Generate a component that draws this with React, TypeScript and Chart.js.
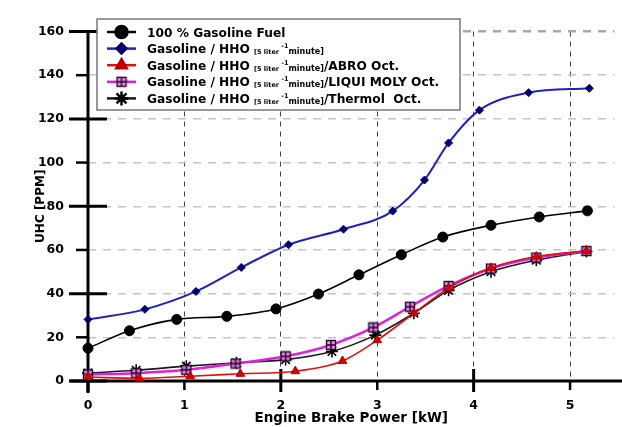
import React, { useEffect, useRef } from 'react';
import { Chart, registerables } from 'chart.js';
import { drawPoint } from 'chart.js/helpers';

Chart.register(...registerables);

// ---- data ----
const gasolineX = [0, 0.43, 0.92, 1.44, 1.95, 2.39, 2.81, 3.25, 3.68, 4.18, 4.68, 5.18];
const gasolineY = [15, 23, 28.2, 29.6, 33, 39.8, 48.6, 57.8, 65.9, 71.3, 75.1, 77.9];

const hhoX = [0, 0.59, 1.12, 1.59, 2.08, 2.65, 3.16, 3.49, 3.74, 4.06, 4.57, 5.2];
const hhoY = [28.2, 32.8, 41, 52, 62.4, 69.5, 77.8, 92, 109, 124, 132, 134];

const abroX = [0, 0.53, 1.06, 1.58, 2.15, 2.64, 3.0, 3.38, 3.74, 4.18, 4.65, 5.17];
const abroY = [1.8, 1.2, 2.2, 3.3, 4.5, 9.2, 18.7, 31, 42.5, 51.8, 57, 59.5];

const liquiX = [0, 0.5, 1.02, 1.53, 2.05, 2.52, 2.96, 3.34, 3.74, 4.18, 4.65, 5.17];
const liquiY = [3, 3.6, 5.1, 8, 11.3, 16.5, 24.5, 34, 43.5, 51.5, 56.5, 59.5];

const thermolX = [0, 0.5, 1.02, 1.54, 2.05, 2.53, 2.98, 3.38, 3.74, 4.18, 4.65, 5.17];
const thermolY = [3.6, 4.9, 6.8, 8.3, 9.8, 13.5, 21, 31, 41.5, 50, 55.3, 59.3];

const xTickValues = [0, 1, 2, 3, 4, 5];
const xMajorTicks = [0, 2, 4];
const xMinorTicks = [1, 3, 5];
const yMajorTicks = [0, 40, 80, 120, 160];
const yMinorTicks = [20, 60, 100, 140];

const legendMain = [
  '100 % Gasoline Fuel',
  'Gasoline / HHO ',
  'Gasoline / HHO ',
  'Gasoline / HHO ',
  'Gasoline / HHO ',
];
const legendHasUnit = [false, true, true, true, true];
const legendSuffix = ['', '', '/ABRO Oct.', '/LIQUI MOLY Oct.', '/Thermol  Oct.'];
const unitPartA = '[5 liter ';
const unitSup = '-1';
const unitPartB = 'minute]';

const FONT = '"DejaVu Sans", Verdana, sans-serif';

function toPoints(xs: number[], ys: number[]) {
  return xs.map((x, i) => ({ x, y: ys[i] }));
}

function makeBoxCross(): HTMLCanvasElement {
  const c = document.createElement('canvas');
  c.width = 12;
  c.height = 12;
  const g = c.getContext('2d')!;
  g.fillStyle = 'rgba(225,140,225,0.9)';
  g.fillRect(1, 1, 10, 10);
  g.strokeStyle = '#2a002a';
  g.lineWidth = 1.4;
  g.strokeRect(1.5, 1.5, 9, 9);
  g.beginPath();
  g.moveTo(6, 1.5);
  g.lineTo(6, 10.5);
  g.moveTo(1.5, 6);
  g.lineTo(10.5, 6);
  g.stroke();
  return c;
}

const axesPlugin = {
  id: 'customAxes',
  beforeDatasetsDraw(chart: any) {
    const { ctx, chartArea } = chart;
    const x = chart.scales.x;
    const y = chart.scales.y;
    const x0 = x.getPixelForValue(0);
    const y0 = y.getPixelForValue(0);
    ctx.save();
    ctx.strokeStyle = '#000';
    ctx.lineCap = 'butt';
    const seg = (ax: number, ay: number, bx: number, by: number, w: number) => {
      ctx.lineWidth = w;
      ctx.beginPath();
      ctx.moveTo(ax, ay);
      ctx.lineTo(bx, by);
      ctx.stroke();
    };
    // axes lines
    seg(x0 - 18, y0, chart.width, y0, 3);
    seg(x0, chartArea.top - 1, x0, y0 + 12, 3);
    // y ticks
    yMajorTicks.forEach((v) => {
      const py = y.getPixelForValue(v);
      seg(x0 - 19, py, x0 + 19, py, 3);
    });
    yMinorTicks.forEach((v) => {
      const py = y.getPixelForValue(v);
      seg(x0 - 12, py, x0, py, 2.5);
    });
    // x ticks
    xMajorTicks.forEach((v) => {
      const px = x.getPixelForValue(v);
      seg(px, y0 - 12, px, y0 + 11, 3);
    });
    xMinorTicks.forEach((v) => {
      const px = x.getPixelForValue(v);
      seg(px, y0, px, y0 + 9, 2.5);
    });
    ctx.restore();
  },
};

const legendPlugin = {
  id: 'customLegend',
  afterDraw(chart: any) {
    const { ctx } = chart;
    const bx = 97, by = 19, bw = 363, bh = 91;
    ctx.save();
    ctx.fillStyle = '#fff';
    ctx.fillRect(bx, by, bw, bh);
    ctx.strokeStyle = '#777';
    ctx.lineWidth = 1.5;
    ctx.strokeRect(bx, by, bw, bh);
    const rowY0 = 32;
    const rowGap = 16.6;
    chart.data.datasets.forEach((ds: any, i: number) => {
      const ry = rowY0 + i * rowGap;
      // line sample
      ctx.strokeStyle = ds.borderColor;
      ctx.lineWidth = 2.5;
      ctx.beginPath();
      ctx.moveTo(107, ry);
      ctx.lineTo(136, ry);
      ctx.stroke();
      ctx.fillStyle = ds.pointBackgroundColor;
      ctx.strokeStyle = ds.pointBorderColor;
      drawPoint(ctx, {
        pointStyle: ds.pointStyle,
        radius: ds.pointRadius + 1,
        rotation: 0,
        borderWidth: ds.pointBorderWidth,
      } as any, 121.5, ry);
      // text
      ctx.fillStyle = '#000';
      ctx.textBaseline = 'alphabetic';
      ctx.textAlign = 'left';
      let tx = 147;
      const base = ry + 4.5;
      ctx.font = `bold 12.2px ${FONT}`;
      ctx.fillText(legendMain[i], tx, base);
      tx += ctx.measureText(legendMain[i]).width;
      if (legendHasUnit[i]) {
        ctx.font = `bold 6.5px ${FONT}`;
        ctx.fillText(unitPartA, tx, base + 1);
        tx += ctx.measureText(unitPartA).width;
        ctx.fillText(unitSup, tx, base - 5);
        tx += ctx.measureText(unitSup).width;
        ctx.font = `bold 8px ${FONT}`;
        ctx.fillText(unitPartB, tx, base + 1);
        tx += ctx.measureText(unitPartB).width;
        ctx.font = `bold 12.2px ${FONT}`;
        ctx.fillText(legendSuffix[i], tx, base);
      }
    });
    ctx.restore();
  },
};

export default function App() {
  const canvasRef = useRef<HTMLCanvasElement | null>(null);

  useEffect(() => {
    if (!canvasRef.current) return;
    const boxCross = makeBoxCross();
    const chart = new Chart(canvasRef.current, {
      type: 'line',
      data: {
        datasets: [
          {
            label: '100 % Gasoline Fuel',
            data: toPoints(gasolineX, gasolineY),
            borderColor: '#000000',
            borderWidth: 1.6,
            pointStyle: 'circle',
            pointRadius: 5,
            pointBackgroundColor: '#000000',
            pointBorderColor: '#000000',
            pointBorderWidth: 1,
            cubicInterpolationMode: 'monotone',
            clip: false,
          },
          {
            label: 'Gasoline / HHO',
            data: toPoints(hhoX, hhoY),
            borderColor: '#2020c8',
            borderWidth: 2,
            pointStyle: 'rectRot',
            pointRadius: 4,
            pointBackgroundColor: '#000070',
            pointBorderColor: '#000070',
            pointBorderWidth: 1,
            cubicInterpolationMode: 'monotone',
            clip: false,
          },
          {
            label: 'Gasoline / HHO / ABRO Oct.',
            data: toPoints(abroX, abroY),
            borderColor: '#e01010',
            borderWidth: 1.6,
            pointStyle: 'triangle',
            pointRadius: 5,
            pointBackgroundColor: '#d80000',
            pointBorderColor: '#b00000',
            pointBorderWidth: 1,
            cubicInterpolationMode: 'monotone',
            clip: false,
          },
          {
            label: 'Gasoline / HHO / LIQUI MOLY Oct.',
            data: toPoints(liquiX, liquiY),
            borderColor: '#e020e0',
            borderWidth: 2.5,
            pointStyle: boxCross,
            pointRadius: 5,
            pointBackgroundColor: '#e020e0',
            pointBorderColor: '#2a002a',
            pointBorderWidth: 1,
            cubicInterpolationMode: 'monotone',
            clip: false,
          },
          {
            label: 'Gasoline / HHO / Thermol Oct.',
            data: toPoints(thermolX, thermolY),
            borderColor: '#1a1a1a',
            borderWidth: 1.6,
            pointStyle: 'star',
            pointRadius: 6,
            pointBackgroundColor: '#000000',
            pointBorderColor: '#000000',
            pointBorderWidth: 1.6,
            cubicInterpolationMode: 'monotone',
            clip: false,
          },
        ],
      },
      options: {
        responsive: false,
        animation: false,
        events: [],
        layout: { padding: { top: 15, left: 0, right: 0, bottom: 0 } },
        plugins: {
          legend: { display: false },
          tooltip: { enabled: false },
        },
        scales: {
          x: {
            type: 'linear',
            min: 0,
            max: 5.46,
            afterBuildTicks: (s: any) => {
              s.ticks = xTickValues.map((v) => ({ value: v }));
            },
            afterFit: (s: any) => {
              s.height = 46;
            },
            ticks: {
              stepSize: 1,
              padding: 17,
              color: '#000',
              maxRotation: 0,
              autoSkip: false,
              font: { family: FONT, size: 12.5, weight: 'bold' },
            },
            grid: {
              drawTicks: false,
              color: (c: any) => (c.tick && c.tick.value === 0 ? 'rgba(0,0,0,0)' : '#444'),
              lineWidth: 1,
            },
            border: { display: false, dash: [5, 5] },
            title: {
              display: true,
              text: 'Engine Brake Power [kW]',
              color: '#000',
              font: { family: FONT, size: 13.5, weight: 'bold' },
              padding: { top: 0, bottom: 0 },
            },
          },
          y: {
            type: 'linear',
            min: 0,
            max: 160,
            afterFit: (s: any) => {
              s.width = 88;
            },
            ticks: {
              stepSize: 20,
              padding: 24,
              color: '#000',
              font: { family: FONT, size: 12.5, weight: 'bold' },
            },
            grid: {
              drawTicks: false,
              color: (c: any) => (c.tick && c.tick.value === 160 ? '#a8a8a8' : '#c4c4c4'),
              lineWidth: (c: any) => (c.tick && c.tick.value === 160 ? 2.5 : 1.5),
            },
            border: { display: false, dash: [8, 7] },
            title: {
              display: true,
              text: 'UHC [PPM]',
              color: '#000',
              font: { family: FONT, size: 12, weight: 'bold' },
              padding: { top: 34, bottom: 0 },
            },
          },
        },
      } as any,
      plugins: [axesPlugin, legendPlugin],
    });
    return () => chart.destroy();
  }, []);

  return (
    <div style={{ position: 'fixed', left: 0, top: 0, width: 622, height: 427, background: '#fff' }}>
      <canvas ref={canvasRef} width={622} height={427} style={{ display: 'block' }} />
    </div>
  );
}
